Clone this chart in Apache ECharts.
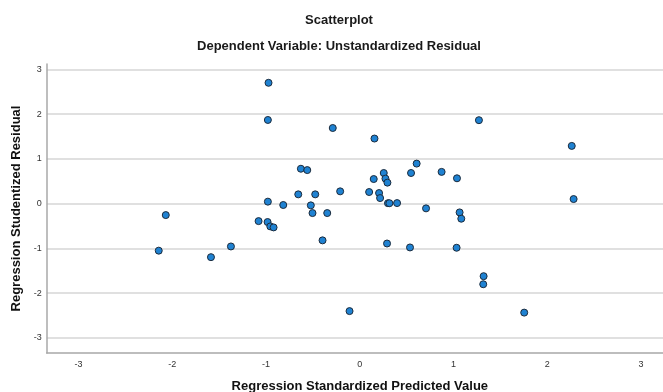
<!DOCTYPE html>
<html>
<head>
<meta charset="utf-8">
<script src="https://cdn.jsdelivr.net/npm/echarts@6/dist/echarts.min.js"></script>
<style>
html,body{margin:0;padding:0;background:#fff;}
#chart{width:663px;height:392px;}
</style>
</head>
<body>
<div id="chart"></div>
<script>
var xValues = [-0.974,-0.981,-0.289,0.156,1.27,2.26,-0.629,-0.561,0.606,0.255,0.546,0.872,1.036,0.148,0.273,0.294,-0.657,-0.476,-0.21,0.099,0.205,0.216,2.28,-0.981,-0.817,-0.523,0.30,0.315,0.397,0.706,-2.07,-1.08,-0.984,-0.955,-0.92,-0.505,-0.348,1.064,1.082,-0.398,0.29,0.535,1.032,-1.375,-2.145,-1.588,1.32,1.316,1.753,-0.11];
var yValues = [2.70,1.87,1.69,1.455,1.865,1.29,0.78,0.75,0.895,0.685,0.685,0.71,0.567,0.55,0.56,0.47,0.208,0.208,0.275,0.26,0.237,0.125,0.103,0.045,-0.03,-0.038,0.01,0.01,0.013,-0.105,-0.255,-0.39,-0.41,-0.508,-0.53,-0.21,-0.21,-0.195,-0.336,-0.82,-0.89,-0.978,-0.985,-0.956,-1.05,-1.195,-1.62,-1.80,-2.434,-2.40];
var xTicks = [-3,-2,-1,0,1,2,3];
var yTicks = [-3,-2,-1,0,1,2,3];
var titleText = 'Scatterplot';
var subtitleText = 'Dependent Variable: Unstandardized Residual';
var xName = 'Regression Standardized Predicted Value';
var yName = 'Regression Studentized Residual';

var points = xValues.map(function(x,i){return [x, yValues[i]];});
var font = '"Liberation Sans", Arial, sans-serif';

var chart = echarts.init(document.getElementById('chart'), null, {renderer:'canvas'});
chart.setOption({
  backgroundColor:'#ffffff',
  animation:false,
  title:[
    {text:titleText, left:334, top:9, textAlign:'center', textStyle:{fontFamily:font, fontSize:13, fontWeight:'bold', color:'#1a1a1a'}},
    {text:subtitleText, left:334, top:35, textAlign:'center', textStyle:{fontFamily:font, fontSize:13, fontWeight:'bold', color:'#1a1a1a'}}
  ],
  grid:{left:46.7, width:626.3, top:64, height:289, containLabel:false, outerBoundsMode:'none'},
  xAxis:{
    type:'value', min:-3.34, max:3.34,
    name:xName, nameLocation:'middle', nameGap:27,
    nameTextStyle:{fontFamily:font, fontSize:13, fontWeight:'bold', color:'#111'},
    axisLine:{show:true, onZero:false, lineStyle:{color:'#a8a8a8', width:1.5}},
    axisTick:{show:false, customValues:xTicks},
    axisLabel:{customValues:xTicks, fontFamily:font, fontSize:9, color:'#333', margin:7},
    splitLine:{show:false}
  },
  yAxis:{
    type:'value', min:-3.336, max:3.12,
    name:yName, nameLocation:'middle', nameGap:23,
    nameTextStyle:{fontFamily:font, fontSize:13, fontWeight:'bold', color:'#111'},
    axisLine:{show:true, onZero:false, lineStyle:{color:'#a8a8a8', width:1.5}},
    axisTick:{show:false, customValues:yTicks},
    axisLabel:{customValues:yTicks, fontFamily:font, fontSize:9, color:'#333', margin:5},
    splitLine:{show:true, lineStyle:{color:'#d6d6d6', width:1.5}}
  },
  series:[{
    type:'scatter',
    data:points,
    symbol:'circle',
    symbolSize:7,
    itemStyle:{color:'#1f82d2', borderColor:'#1c2b3c', borderWidth:1, opacity:1},
    z:5
  }]
});
</script>
</body>
</html>
